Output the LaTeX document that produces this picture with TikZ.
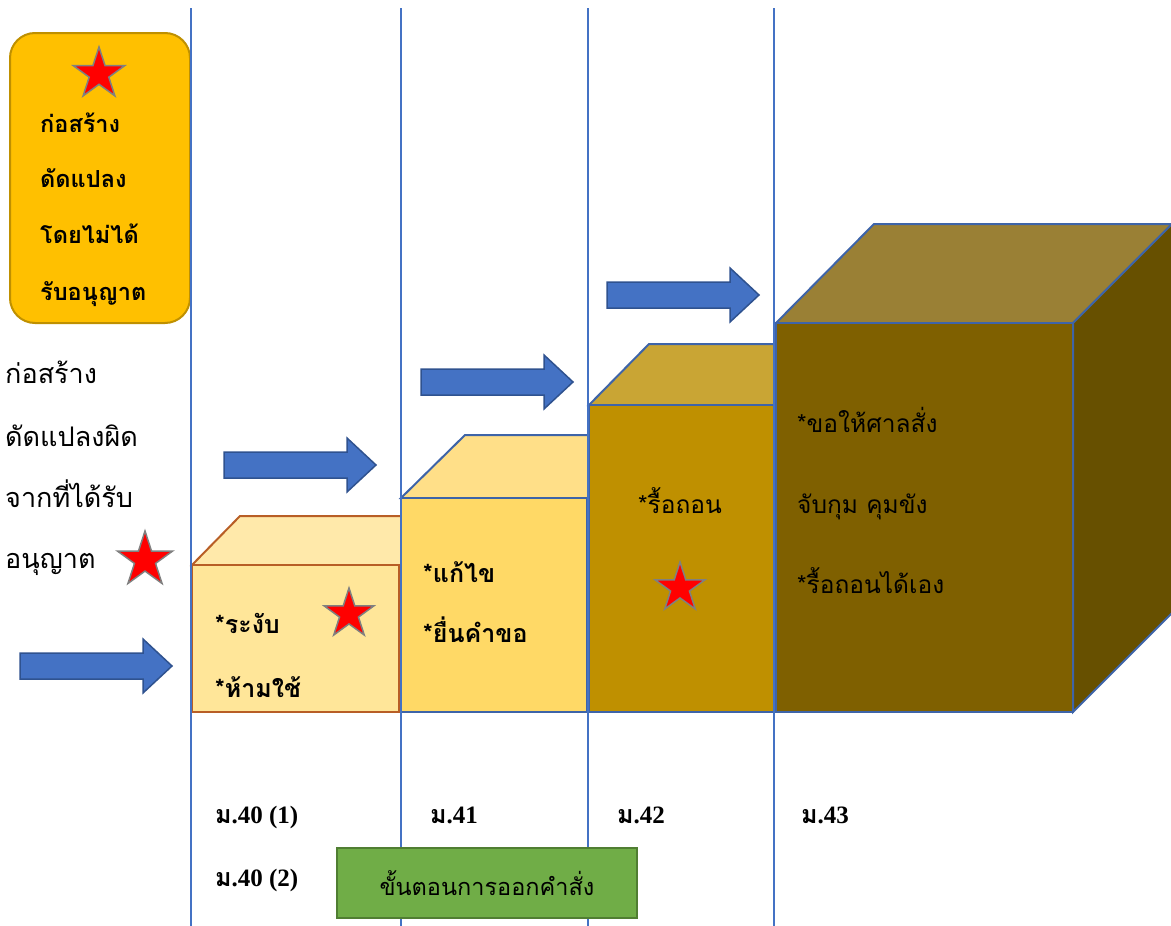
\documentclass[tikz,border=0pt]{standalone}
\usepackage{fontspec}
\setmainfont{Liberation Serif}
\newfontfamily\thai[Script=Thai]{Loma}
\usetikzlibrary{shapes.geometric}
\definecolor{vline}{HTML}{4472C4}
\definecolor{arrfill}{HTML}{4472C4}
\definecolor{arrdraw}{HTML}{2F528F}
\definecolor{orfill}{HTML}{FFC000}
\definecolor{ordraw}{HTML}{BF9000}
\definecolor{cAfront}{HTML}{FFE699}
\definecolor{cAtop}{HTML}{FFE9AA}
\definecolor{cAdraw}{HTML}{B85E26}
\definecolor{cBfront}{HTML}{FFD966}
\definecolor{cBtop}{HTML}{FFDF88}
\definecolor{cubedraw}{HTML}{3E64A8}
\definecolor{cCfront}{HTML}{BF9000}
\definecolor{cCtop}{HTML}{C9A534}
\definecolor{cDfront}{HTML}{7F6000}
\definecolor{cDtop}{HTML}{9A8035}
\definecolor{cDside}{HTML}{675000}
\definecolor{stardraw}{HTML}{808080}
\definecolor{grfill}{HTML}{70AD47}
\definecolor{grdraw}{HTML}{507E32}
\tikzset{
  arrowsty/.style={fill=arrfill, draw=arrdraw, line width=1.5pt, line join=miter},
  bigarrow/.pic={\draw[arrowsty] (0,-13) -- (123,-13) -- (123,-27) -- (152,0) -- (123,27) -- (123,13) -- (0,13) -- cycle;},
  redstar/.style={star, star points=5, star point ratio=2.618, fill=red, draw=stardraw, line width=1.5pt, inner sep=0pt},
  thaitxt/.style={anchor=base west, inner sep=0pt, font=\thai\fontsize{27}{32}\selectfont},
  thaibold/.style={anchor=base west, inner sep=0pt, font=\thai\bfseries\fontsize{23.5}{28}\selectfont},
  cubetxt/.style={anchor=base west, inner sep=0pt, font=\thai\bfseries\fontsize{25}{30}\selectfont},
  cubereg/.style={anchor=base west, inner sep=0pt, font=\thai\fontsize{24.5}{29}\selectfont},
  seclabel/.style={anchor=base west, inner sep=0pt, font=\bfseries\fontsize{25}{30}\selectfont},
  gridline/.style={draw=vline, line width=2.2pt},
}
\begin{document}
\begin{tikzpicture}[x=1pt, y=-1pt]
\useasboundingbox (0,0) rectangle (1171,926);

% orange box
\draw[fill=orfill, draw=ordraw, line width=2pt, rounded corners=25pt] (10,33) rectangle (190,323);
\node[redstar, minimum size=54pt] (s0) at (99,74) {};
\node[thaibold] (o1) at (40,132) {ก่อสร้าง};
\node[thaibold] (o2) at (40,187) {ดัดแปลง};
\node[thaibold] (o3) at (40,243) {โดยไม่ได้};
\node[thaibold] (o4) at (40,300) {รับอนุญาต};

% left text
\node[thaitxt] (l1) at (5,383) {ก่อสร้าง};
\node[thaitxt] (l2) at (5,446) {ดัดแปลงผิด};
\node[thaitxt] (l3) at (5,507) {จากที่ได้รับ};
\node[thaitxt] (l4) at (5,568) {อนุญาต};
\node[redstar, minimum size=58pt] (s1) at (145,560) {};

% cube 1
\draw[fill=cAtop, draw=cAdraw, line width=2pt, line join=miter] (192,565) -- (240,516) -- (401,516) -- (401,565) -- cycle;
\draw[fill=cAfront, draw=cAdraw, line width=2pt] (192,565) rectangle (399,712);
% cube 2
\draw[fill=cBtop, draw=cubedraw, line width=2pt, line join=miter] (401,498) -- (465,435) -- (588,435) -- (588,498) -- cycle;
\draw[fill=cBfront, draw=cubedraw, line width=2pt] (401,498) rectangle (587,712);
% cube 3
\draw[fill=cCtop, draw=cubedraw, line width=2pt, line join=miter] (589,405) -- (649,344) -- (775,344) -- (775,405) -- cycle;
\draw[fill=cCfront, draw=cubedraw, line width=2pt] (589,405) rectangle (774,712);
% cube 4
\draw[fill=cDtop, draw=cubedraw, line width=2pt, line join=miter] (776,323) -- (874,224) -- (1172,224) -- (1073,323) -- cycle;
\draw[fill=cDside, draw=cubedraw, line width=2pt, line join=miter] (1073,323) -- (1172,224) -- (1172,613) -- (1073,712) -- cycle;
\draw[fill=cDfront, draw=cubedraw, line width=2pt] (776,323) rectangle (1073,712);

% grid lines
\coordinate (g1t) at (191,8); \coordinate (g1b) at (191,926);
\coordinate (g2t) at (401,8); \coordinate (g2b) at (401,926);
\coordinate (g3t) at (588,8); \coordinate (g3b) at (588,926);
\coordinate (g4t) at (774,8); \coordinate (g4b) at (774,926);
\draw[gridline] (g1t) -- (g1b);
\draw[gridline] (g2t) -- (g2b);
\draw[gridline] (g3t) -- (g3b);
\draw[gridline] (g4t) -- (g4b);

% arrows
\pic at (20,666) {bigarrow};
\pic at (224,465) {bigarrow};
\pic at (421,382) {bigarrow};
\pic at (607,295) {bigarrow};

% stars in cubes
\node[redstar, minimum size=52pt] (s2) at (349,614) {};
\node[redstar, minimum size=52pt] (s3) at (680,588) {};

% cube texts
\node[cubetxt] (c1a) at (215,633) {*ระงับ};
\node[cubetxt] (c1b) at (215,697) {*ห้ามใช้};
\node[cubetxt] (c2a) at (423,582) {*แก้ไข};
\node[cubetxt] (c2b) at (423,642) {*ยื่นคำขอ};
\node[cubereg, anchor=base] (c3a) at (680,513) {*รื้อถอน};
\node[cubereg] (c4a) at (797,432) {*ขอให้ศาลสั่ง};
\node[cubereg] (c4b) at (797,513) {จับกุม คุมขัง};
\node[cubereg] (c4c) at (797,593) {*รื้อถอนได้เอง};

% section labels
\node[seclabel] (m1) at (215,823) {{\thai ม}.40 (1)};
\node[seclabel] (m2) at (430,823) {{\thai ม}.41};
\node[seclabel] (m3) at (617,823) {{\thai ม}.42};
\node[seclabel] (m4) at (801,823) {{\thai ม}.43};
\node[seclabel] (m5) at (215,886) {{\thai ม}.40 (2)};

% green box
\node[draw=grdraw, fill=grfill, line width=2pt, minimum width=300pt, minimum height=70pt, inner sep=0pt,
      font=\thai\fontsize{23.5}{28}\selectfont] (g) at (487,883) {ขั้นตอนการออกคำสั่ง};
\end{tikzpicture}
\end{document}
